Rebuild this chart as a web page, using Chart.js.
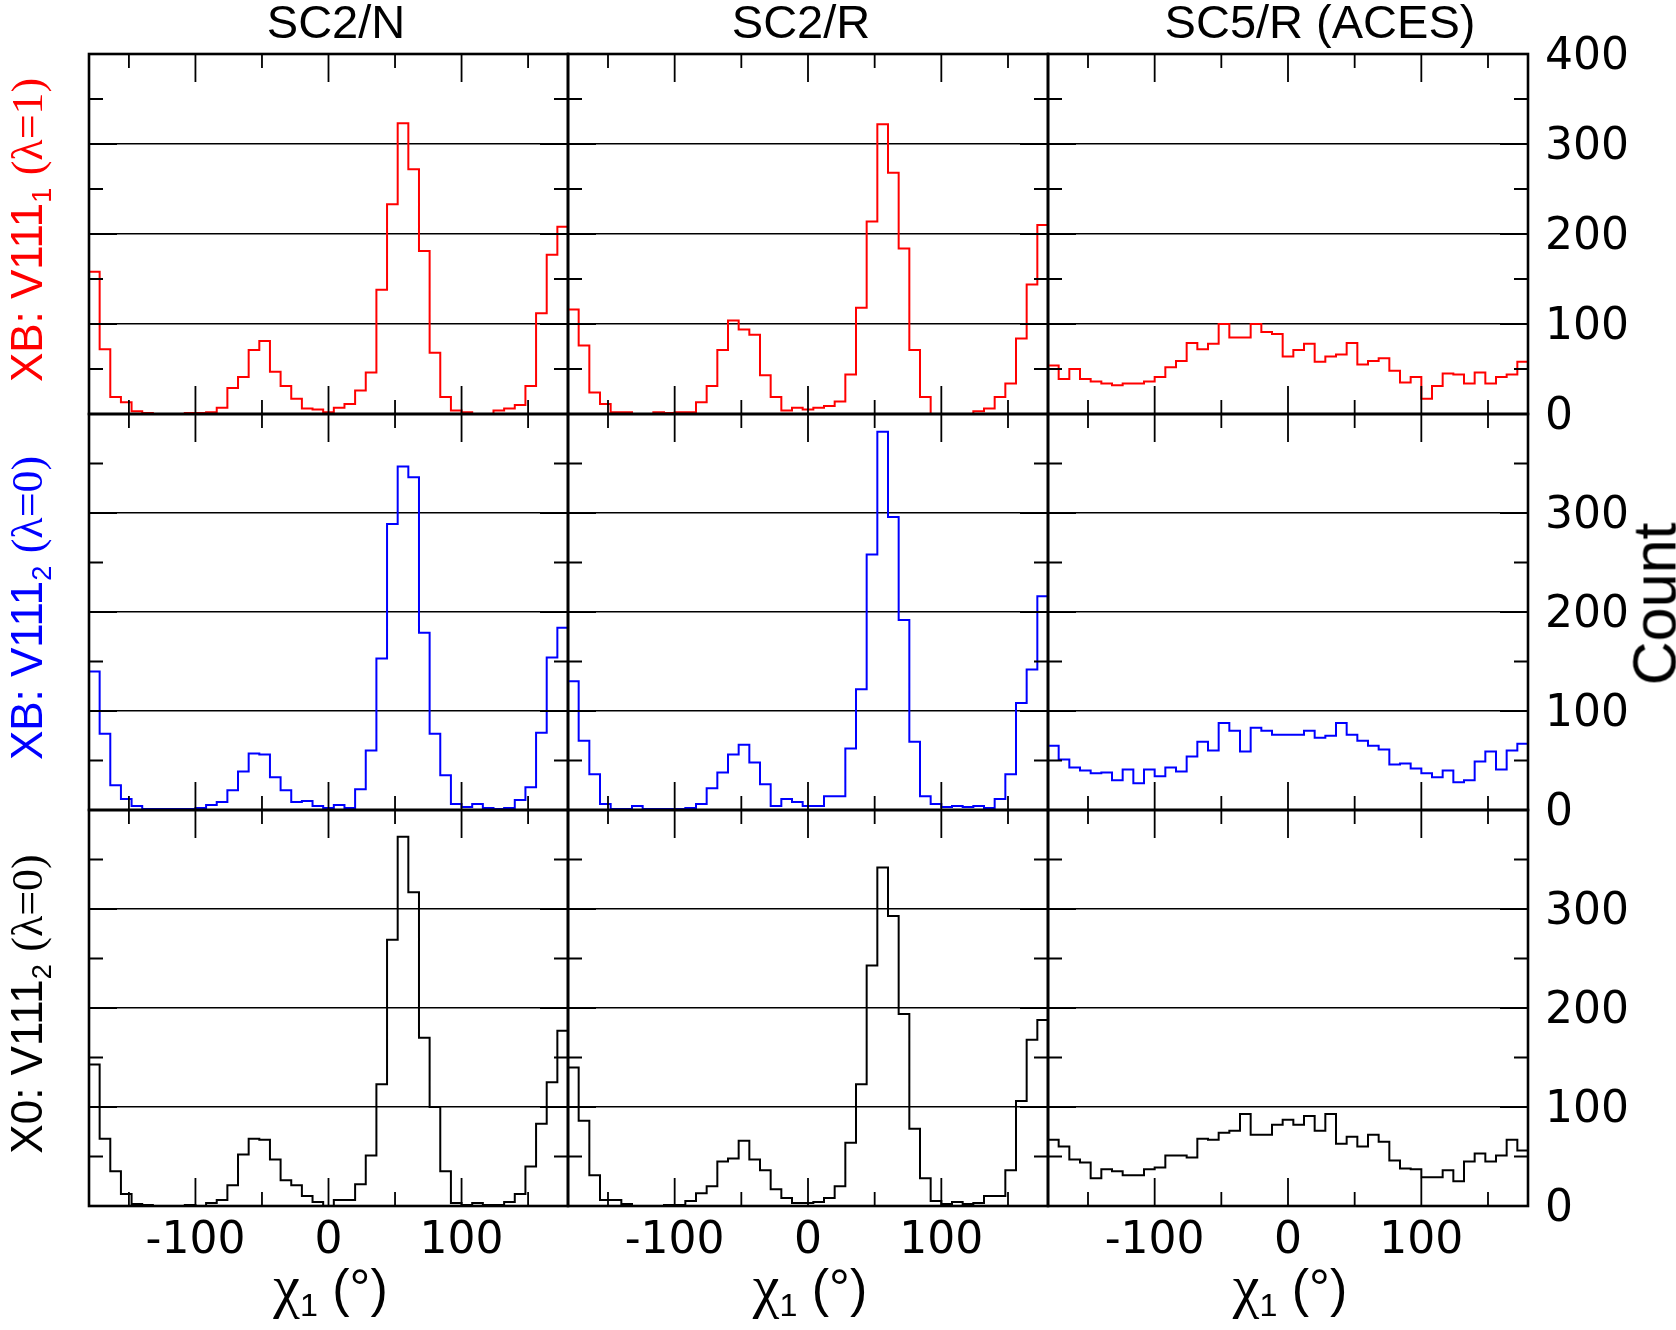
<!DOCTYPE html>
<html>
<head>
<meta charset="utf-8">
<script src="https://cdn.jsdelivr.net/npm/chart.js@4.4.0/dist/chart.umd.min.js"></script>
<style>
  html, body { margin: 0; padding: 0; background: #fff; }
  body { position: relative; width: 1676px; height: 1330px; overflow: hidden;
         font-family: "Liberation Sans", Arial, sans-serif; }
  canvas { position: absolute; }
  .lbl { position: absolute; white-space: nowrap; line-height: 1; transform-origin: center center; }
  .sub { font-size: 0.62em; position: relative; top: 0.32em; }
  .serif { font-family: "Liberation Serif", "Times New Roman", serif; }
</style>
</head>
<body>
<script>
// chi1 bin edges (degrees), 8 degree bins
const binEdges = [-180, -172, -164, -156, -148, -140, -132, -124, -116, -108, -100, -92, -84, -76, -68,
  -60, -52, -44, -36, -28, -20, -12, -4, 4, 12, 20, 28, 36, 44, 52, 60, 68, 76, 84, 92, 100, 108,
  116, 124, 132, 140, 148, 156, 164, 172, 180];

const xTickLabels = [-100, 0, 100];
const xMajorTicks = [-100, 0, 100];
const xMinorTicks = [-150, -50, 50, 150];
const yMajorTicks = [100, 200, 300];
const yMinorTicks = [50, 150, 250, 350];

const columnTitles = ['SC2/N', 'SC2/R', 'SC5/R (ACES)'];

// XB: V111_1 (lambda=1), red
const xb1SC2N = [158, 72, 19, 13, 3, 1, 0, 0, 0, 1, 1, 2, 7, 29, 41, 71, 81, 47, 31, 17, 6, 5, 2, 7, 11,
  26, 46, 138, 233, 323, 272, 181, 68, 19, 4, 2, 0, 0, 4, 6, 10, 31, 112, 177, 208];
const xb1SC2R = [116, 76, 24, 11, 2, 2, 0, 0, 2, 1, 2, 2, 13, 31, 71, 104, 94, 88, 43, 19, 4, 7, 5, 7, 9,
  14, 44, 118, 214, 322, 268, 184, 71, 19, 0, 0, 0, 0, 3, 6, 19, 34, 84, 144, 210];
const xb1SC5R = [54, 39, 50, 39, 36, 34, 32, 34, 34, 36, 41, 52, 59, 79, 72, 78, 100, 85, 85, 100, 91, 89,
  64, 71, 78, 58, 64, 66, 79, 55, 59, 62, 48, 35, 41, 17, 31, 45, 44, 34, 46, 34, 41, 44, 58];

// XB: V111_2 (lambda=0), blue
const xb2SC2N = [140, 77, 25, 11, 4, 1, 1, 1, 1, 1, 2, 5, 8, 20, 39, 57, 56, 33, 20, 8, 9, 4, 2, 5, 2,
  21, 60, 153, 289, 347, 336, 179, 77, 35, 6, 3, 6, 2, 1, 2, 10, 23, 78, 154, 184];
const xb2SC2R = [130, 70, 36, 6, 1, 1, 4, 1, 1, 1, 1, 2, 6, 22, 38, 56, 66, 48, 26, 4, 11, 8, 4, 4, 14,
  14, 62, 122, 258, 382, 296, 192, 69, 14, 6, 3, 4, 3, 4, 2, 11, 36, 108, 142, 216];
const xb2SC5R = [65, 51, 43, 40, 37, 38, 30, 41, 27, 41, 34, 43, 39, 54, 69, 60, 88, 80, 59, 83, 80, 76,
  76, 76, 80, 73, 75, 88, 76, 70, 65, 61, 46, 47, 42, 37, 33, 40, 28, 30, 49, 59, 41, 60, 67];

// X0: V111_2 (lambda=0), black
const x0SC2N = [143, 68, 35, 12, 2, 1, 0, 0, 0, 1, 0, 3, 6, 21, 52, 68, 67, 47, 26, 21, 10, 4, 0, 6, 6,
  22, 51, 123, 269, 373, 317, 170, 100, 35, 3, 1, 3, 1, 1, 4, 12, 40, 83, 125, 177];
const x0SC2R = [140, 86, 31, 6, 6, 2, 0, 0, 0, 1, 1, 5, 13, 20, 45, 48, 66, 47, 36, 17, 8, 3, 3, 4, 8,
  20, 64, 123, 243, 342, 293, 194, 78, 28, 5, 2, 4, 2, 3, 10, 10, 36, 106, 168, 188];
const x0SC5R = [67, 60, 47, 44, 28, 37, 35, 31, 31, 37, 39, 51, 51, 49, 68, 67, 74, 76, 93, 72, 72, 82,
  87, 82, 91, 76, 93, 63, 70, 60, 72, 65, 46, 38, 37, 29, 29, 36, 25, 45, 53, 45, 51, 67, 56];

const rowSeries = [
  [xb1SC2N, xb1SC2R, xb1SC5R],
  [xb2SC2N, xb2SC2R, xb2SC5R],
  [x0SC2N, x0SC2R, x0SC5R],
];
const rowColors = ['#ff0000', '#0000ff', '#000000'];
const rowLabels = [
  'XB: V111<span class="sub">1</span> <span class="serif">(λ=1)</span>',
  'XB: V111<span class="sub">2</span> <span class="serif">(λ=0)</span>',
  'X0: V111<span class="sub">2</span> <span class="serif">(λ=0)</span>',
];

// panel geometry (page pixels)
const panelLeft = [89, 568, 1048];
const panelW = [479, 480, 480];
const panelTop = [54, 414, 810];
const panelH = [360, 396, 396];
const titleCenter = [336, 801, 1320];
const PAD = 50;
const rightW = 140;
const bottomH = 70;

const tickFont = { family: '"DejaVu Sans", sans-serif', size: 44 };

const frameTicks = {
  id: 'frameTicks',
  afterDatasetsDraw(chart) {
    const { ctx, chartArea: a } = chart;
    const xs = chart.scales.x, ys = chart.scales.y;
    ctx.save();
    ctx.strokeStyle = '#000';
    ctx.lineWidth = 1.8;
    ctx.beginPath();
    xMajorTicks.concat(xMinorTicks).forEach(v => {
      const len = xMajorTicks.includes(v) ? 28 : 14;
      const px = xs.getPixelForValue(v);
      ctx.moveTo(px, a.top); ctx.lineTo(px, a.top + len);
      ctx.moveTo(px, a.bottom); ctx.lineTo(px, a.bottom - len);
    });
    yMajorTicks.concat(yMinorTicks).forEach(v => {
      const len = yMajorTicks.includes(v) ? 28 : 14;
      const py = ys.getPixelForValue(v);
      ctx.moveTo(a.left, py); ctx.lineTo(a.left + len, py);
      ctx.moveTo(a.right, py); ctx.lineTo(a.right - len, py);
    });
    ctx.stroke();
    ctx.lineWidth = 2.6;
    ctx.strokeRect(a.left, a.top, a.right - a.left, a.bottom - a.top);
    ctx.restore();
  }
};

function makePanel(r, c) {
  const canv = document.createElement('canvas');
  const w = PAD + panelW[c] + (c === 2 ? rightW : 0) + PAD;
  const h = PAD + panelH[r] + (r === 2 ? bottomH : 0) + PAD;
  canv.width = w;
  canv.height = h;
  canv.style.left = (panelLeft[c] - PAD) + 'px';
  canv.style.top = (panelTop[r] - PAD) + 'px';
  document.body.appendChild(canv);

  const values = rowSeries[r][c];
  const pts = values.map((v, i) => ({ x: binEdges[i], y: v }));
  pts.push({ x: binEdges[binEdges.length - 1], y: values[values.length - 1] });

  new Chart(canv, {
    type: 'line',
    data: {
      datasets: [{
        data: pts,
        stepped: 'before',
        borderColor: rowColors[r],
        borderWidth: 2,
        pointRadius: 0,
        fill: false,
        clip: 3,
      }],
    },
    options: {
      responsive: false,
      animation: false,
      events: [],
      layout: { padding: PAD },
      plugins: { legend: { display: false }, tooltip: { enabled: false } },
      scales: {
        x: {
          type: 'linear', min: -180, max: 180, position: 'bottom',
          display: r === 2,
          grid: { display: false },
          border: { display: false },
          afterBuildTicks: s => { s.ticks = xTickLabels.map(v => ({ value: v })); },
          afterFit: s => { s.height = r === 2 ? bottomH : 0; },
          ticks: { font: tickFont, color: '#000', padding: 1, maxRotation: 0, autoSkip: false },
        },
        y: {
          type: 'linear', min: 0, max: 400, position: 'right',
          grid: {
            drawTicks: false,
            lineWidth: 1.4,
            color: ctx => (ctx.tick && ctx.tick.value > 0 && ctx.tick.value < 400) ? '#000' : 'rgba(0,0,0,0)',
          },
          border: { display: false },
          afterFit: s => { s.width = c === 2 ? rightW : 0; },
          ticks: {
            display: c === 2, stepSize: 100, padding: 17, labelOffset: 4, font: tickFont, color: '#000',
            callback: v => (r > 0 && v === 400) ? '' : String(v),
          },
        },
      },
    },
    plugins: [frameTicks],
  });
}

for (let r = 0; r < 3; r++) {
  for (let c = 0; c < 3; c++) makePanel(r, c);
}

function addLabel(html, cx, cy, style, rotate) {
  const d = document.createElement('div');
  d.className = 'lbl';
  d.innerHTML = html;
  Object.assign(d.style, style);
  d.style.left = cx + 'px';
  d.style.top = cy + 'px';
  d.style.transform = 'translate(-50%, -50%)' + (rotate ? ' rotate(-90deg)' : '');
  document.body.appendChild(d);
}

for (let c = 0; c < 3; c++) {
  const cx = panelLeft[c] + panelW[c] / 2;
  addLabel(columnTitles[c], titleCenter[c], 21, { fontSize: '47px' });
  addLabel('<span class="serif" style="font-size:60px">χ</span><span class="sub">1</span> (°)',
    cx + 2, 1286, { fontSize: '52px' });
}
for (let r = 0; r < 3; r++) {
  addLabel(rowLabels[r], 27, panelTop[r] + panelH[r] / 2 - 4,
    { fontSize: '44px', color: rowColors[r] }, true);
}
addLabel('Count', 1655, 604, { fontSize: '61px' }, true);
</script>
</body>
</html>
